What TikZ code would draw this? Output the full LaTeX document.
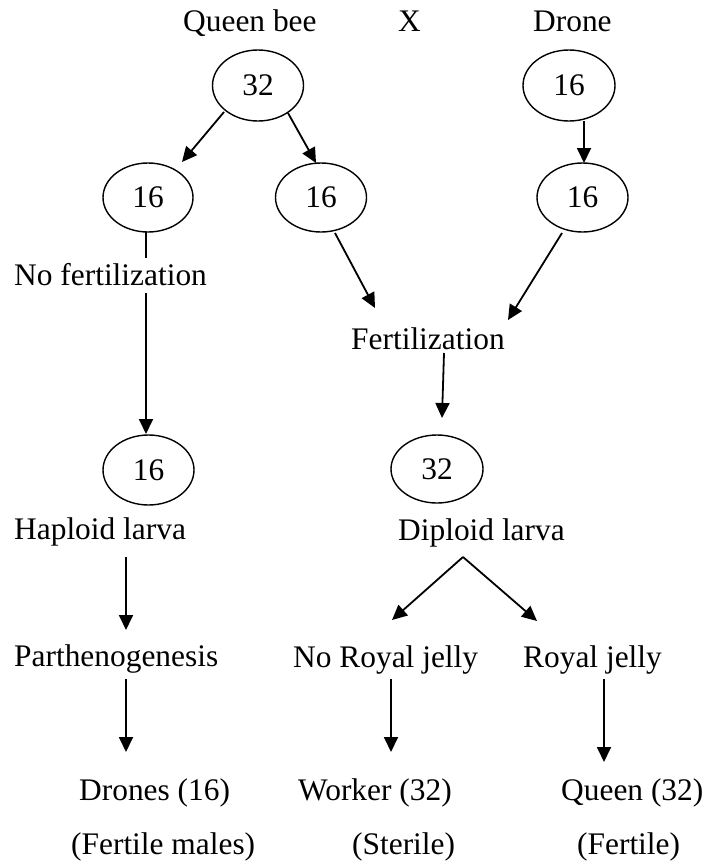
\documentclass[tikz,border=0pt]{standalone}
\usepackage{fontspec}
\setmainfont{Liberation Serif}
\usetikzlibrary{shapes.geometric,arrows.meta}

\begin{document}
\begin{tikzpicture}[x=1pt,y=-1pt,
  every node/.style={font=\fontsize{31.4}{38}\selectfont, inner sep=0pt},
  chrom/.style={ellipse, draw, line width=1.4pt, minimum width=91pt, minimum height=70pt},
  label/.style={anchor=base west},
  link/.style={line width=1.8pt},
  arr/.style={link, -{Triangle[length=15pt,width=14pt]}}]

  \useasboundingbox (0,0) rectangle (704,865);

  % parents
  \node[label] (queenbee) at (183,31) {Queen bee};
  \node[label] (cross)    at (398,31) {X};
  \node[label] (drone)    at (533,31) {Drone};

  % chromosome numbers
  \node[chrom, minimum height=71pt] (q32)  at (258,85.5)  {32};
  \node[chrom, minimum height=71pt, minimum width=92pt] (d16a) at (569,85.5) {16};
  \node[chrom, minimum height=69pt, minimum width=90pt] (l16)  at (148,197.5) {16};
  \node[chrom, minimum height=69pt] (m16)  at (321,197.5) {16};
  \node[chrom, minimum height=69pt] (d16b) at (582.5,197.5) {16};
  \node[chrom] (h16) at (148.5,470) {16};
  \node[chrom, minimum height=68pt, minimum width=92pt] (p32) at (437,469) {32};

  % stages
  \node[label] (nofert)    at (14,285)  {No fertilization};
  \node[label] (fert)      at (351,349) {Fertilization};
  \node[label] (hap)       at (14,539)  {Haploid larva};
  \node[label] (dip)       at (398,540) {Diploid larva};
  \node[label] (parth)     at (14,666)  {Parthenogenesis};
  \node[label] (noroyal)   at (293,667) {No Royal jelly};
  \node[label] (royal)     at (523,667) {Royal jelly};
  \node[label] (drones)    at (79,800)  {Drones (16)};
  \node[label] (worker)    at (298,800) {Worker (32)};
  \node[label] (queen)     at (561,800) {Queen (32)};
  \node[label] (fertmales) at (71,854)  {(Fertile males)};
  \node[label] (sterile)   at (352,854) {(Sterile)};
  \node[label] (fertile)   at (577,854) {(Fertile)};

  % meiosis
  \draw[arr] ([shift={(-34,26.5)}]q32.center) -- ([shift={(34,-35.5)}]l16.center);
  \draw[arr] ([shift={(30,27.5)}]q32.center) -- ([shift={(-5,-34.5)}]m16.center);
  \draw[arr] ([shift={(15,35.5)}]d16a.center) -- ([shift={(1.5,-34.5)}]d16b.center);

  % unfertilised branch
  \draw[link] ([shift={(-2,34.5)}]l16.center) -- ([shift={(132,-27)}]nofert.base west);
  \draw[arr] ([shift={(132,8)}]nofert.base west) -- ([shift={(-2.5,-36)}]h16.center);
  \draw[arr] ([shift={(112,18)}]hap.base west) -- ([shift={(112,-36)}]parth.base west);
  \draw[arr] ([shift={(112,13)}]parth.base west) -- ([shift={(47,-48)}]drones.base west);

  % fertilised branch
  \draw[arr] ([shift={(14,35.5)}]m16.center) -- ([shift={(24,-41)}]fert.base west);
  \draw[arr] ([shift={(-20.5,35.5)}]d16b.center) -- ([shift={(157,-29)}]fert.base west);
  \draw[arr] ([shift={(93,4)}]fert.base west) -- ([shift={(5,-51)}]p32.center);
  \draw[arr] ([shift={(65,17)}]dip.base west) -- ([shift={(99,-47)}]noroyal.base west);
  \draw[arr] ([shift={(65,17)}]dip.base west) -- ([shift={(14,-46)}]royal.base west);
  \draw[arr] ([shift={(98,12)}]noroyal.base west) -- ([shift={(93,-48)}]worker.base west);
  \draw[arr] ([shift={(81,12)}]royal.base west) -- ([shift={(43,-38)}]queen.base west);
\end{tikzpicture}
\end{document}
